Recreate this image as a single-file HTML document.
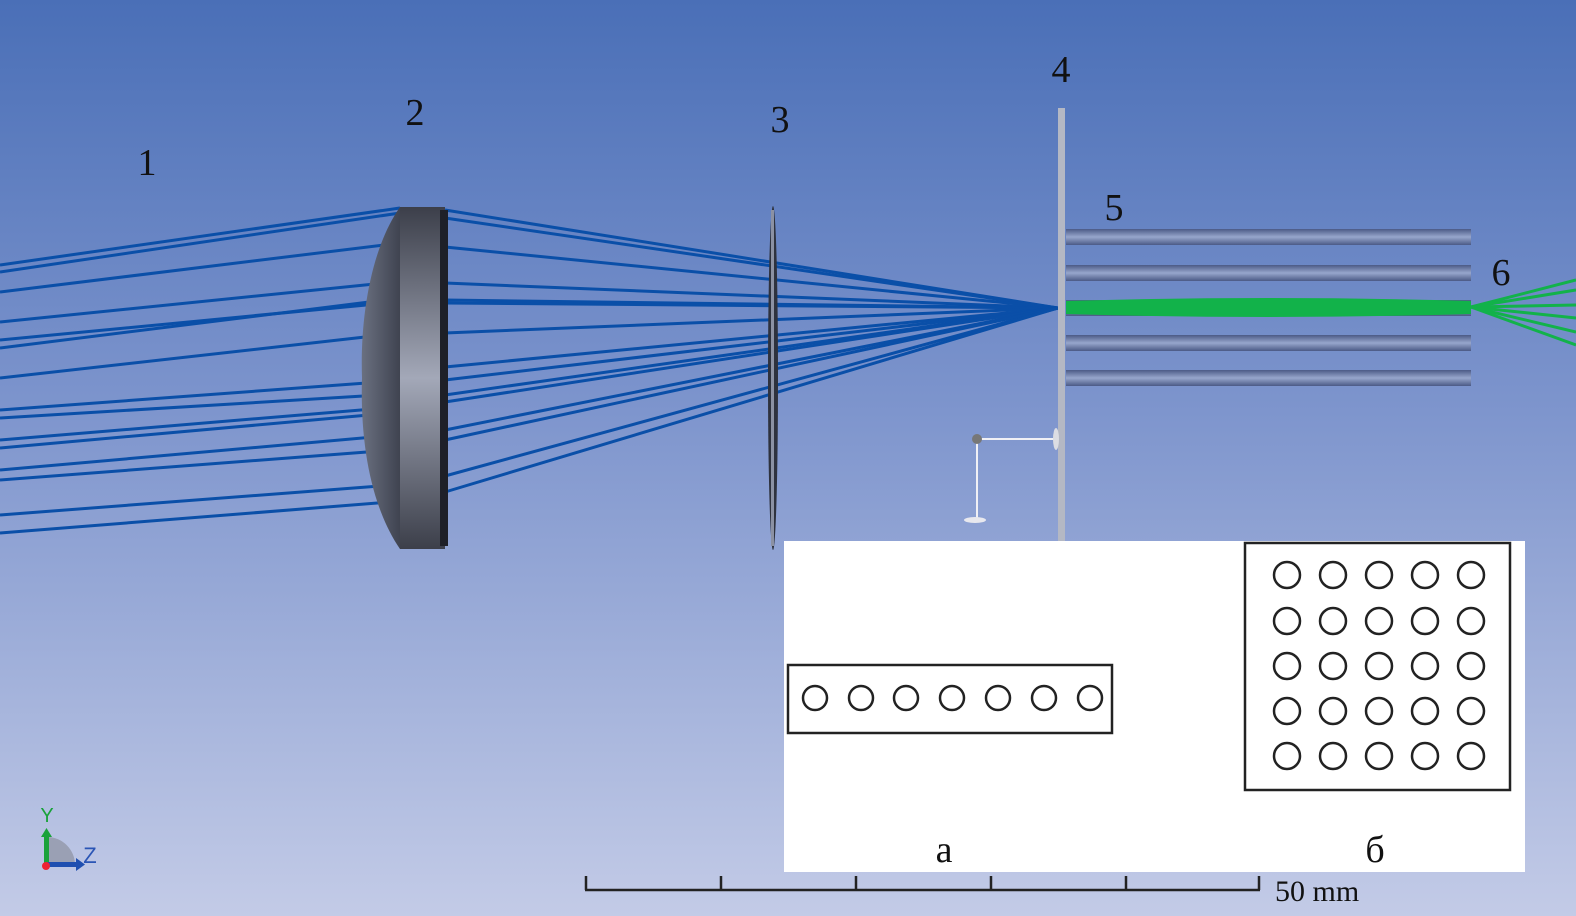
<!DOCTYPE html>
<html><head><meta charset="utf-8"><style>
html,body{margin:0;padding:0;}
body{width:1576px;height:916px;overflow:hidden;background:linear-gradient(#4a6fb7 0%,#7e95cd 45%,#c3cbe7 100%);}
svg{position:absolute;left:0;top:0}
text{font-family:"Liberation Serif",serif;fill:#111}
</style></head><body>
<svg width="1576" height="916" viewBox="0 0 1576 916">
<defs>
<linearGradient id="lg" x1="0" y1="0" x2="0" y2="1">
<stop offset="0" stop-color="#3c3f4a"/><stop offset="0.5" stop-color="#a3a8b8"/><stop offset="1" stop-color="#3c3f4a"/></linearGradient>
<linearGradient id="lc" x1="0" y1="0" x2="1" y2="0">
<stop offset="0" stop-color="#6a7080"/><stop offset="1" stop-color="#3f4350"/></linearGradient>
<linearGradient id="rod" x1="0" y1="0" x2="0" y2="1">
<stop offset="0" stop-color="#4b5a86"/><stop offset="0.5" stop-color="#97a6cc"/><stop offset="1" stop-color="#4b5a86"/></linearGradient>
</defs>
<g stroke="#0a4fa8" stroke-width="3" fill="none">
<line x1="0" y1="265" x2="400" y2="208"/><line x1="0" y1="272" x2="400" y2="213"/>
<line x1="0" y1="292" x2="400" y2="243"/><line x1="0" y1="322" x2="385" y2="283"/>
<line x1="0" y1="340" x2="397" y2="302"/><line x1="0" y1="348" x2="385" y2="300"/>
<line x1="0" y1="378" x2="365" y2="337"/><line x1="0" y1="410" x2="380" y2="382"/>
<line x1="0" y1="418" x2="380" y2="395"/><line x1="0" y1="440" x2="385" y2="408"/>
<line x1="0" y1="448" x2="380" y2="414"/><line x1="0" y1="470" x2="385" y2="436"/>
<line x1="0" y1="480" x2="380" y2="451"/><line x1="0" y1="515" x2="380" y2="486"/>
<line x1="0" y1="533" x2="390" y2="502"/>
<line x1="445" y1="210" x2="1058" y2="308"/><line x1="445" y1="218" x2="1058" y2="308"/>
<line x1="445" y1="247" x2="1058" y2="308"/><line x1="445" y1="283" x2="1058" y2="308"/>
<line x1="445" y1="300" x2="1058" y2="308"/><line x1="445" y1="303" x2="1058" y2="308"/>
<line x1="445" y1="333" x2="1058" y2="308"/><line x1="445" y1="367" x2="1058" y2="308"/>
<line x1="445" y1="380" x2="1058" y2="308"/><line x1="445" y1="395" x2="1058" y2="308"/>
<line x1="445" y1="402" x2="1058" y2="308"/><line x1="445" y1="430" x2="1058" y2="308"/>
<line x1="445" y1="440" x2="1058" y2="308"/><line x1="445" y1="476" x2="1058" y2="308"/>
<line x1="445" y1="492" x2="1058" y2="308"/>
</g>
<path d="M400,207 C370,250 360,320 362,378 C360,440 370,505 400,549 Z" fill="url(#lc)"/>
<rect x="400" y="207" width="45" height="342" fill="url(#lg)"/>
<rect x="440" y="210" width="8" height="336" fill="#1e2028"/>
<ellipse cx="773" cy="378" rx="5" ry="172" fill="#2e323e"/>
<rect x="771" y="210" width="3" height="336" fill="#8b91a3"/>
<g fill="url(#rod)">
<rect x="1066" y="229" width="405" height="16"/><rect x="1066" y="265" width="405" height="16"/>
<rect x="1066" y="300" width="405" height="16"/><rect x="1066" y="335" width="405" height="16"/>
<rect x="1066" y="370" width="405" height="16"/>
</g>
<path d="M1066,301 Q1270,295 1471,301 L1471,314 Q1270,320 1066,314 Z" fill="#12b24a"/>
<g stroke="#12b24a" stroke-width="3">
<line x1="1471" y1="307" x2="1576" y2="280"/><line x1="1471" y1="307" x2="1576" y2="290"/>
<line x1="1471" y1="307" x2="1576" y2="305"/><line x1="1471" y1="307" x2="1576" y2="318"/>
<line x1="1471" y1="307" x2="1576" y2="332"/><line x1="1471" y1="307" x2="1576" y2="345"/>
</g>
<rect x="1058" y="108" width="7" height="435" fill="#b4b8c4"/>
<g stroke="#f0f0f5" stroke-width="2" fill="none"><path d="M1055,439 H977 V520"/></g>
<ellipse cx="1056" cy="439" rx="3" ry="11" fill="#dcdde3"/>
<circle cx="977" cy="439" r="5" fill="#777"/>
<ellipse cx="975" cy="520" rx="11" ry="3" fill="#e8e8ee"/>
<text x="147" y="175" font-size="38" text-anchor="middle">1</text>
<text x="415" y="125" font-size="38" text-anchor="middle">2</text>
<text x="780" y="132" font-size="38" text-anchor="middle">3</text>
<text x="1061" y="82" font-size="38" text-anchor="middle">4</text>
<text x="1114" y="220" font-size="38" text-anchor="middle">5</text>
<text x="1501" y="285" font-size="38" text-anchor="middle">6</text>
<rect x="784" y="541" width="741" height="331" fill="#fff"/>
<g fill="none" stroke="#222" stroke-width="2.5">
<rect x="788" y="665" width="324" height="68"/>
<rect x="1245" y="543" width="265" height="247"/>
<circle cx="815" cy="698" r="12"/><circle cx="861" cy="698" r="12"/><circle cx="906" cy="698" r="12"/>
<circle cx="952" cy="698" r="12"/><circle cx="998" cy="698" r="12"/><circle cx="1044" cy="698" r="12"/><circle cx="1090" cy="698" r="12"/>
</g>
<g fill="none" stroke="#222" stroke-width="2.5" id="grid">
<circle cx="1287" cy="575" r="13"/><circle cx="1333" cy="575" r="13"/><circle cx="1379" cy="575" r="13"/><circle cx="1425" cy="575" r="13"/><circle cx="1471" cy="575" r="13"/>
<circle cx="1287" cy="621" r="13"/><circle cx="1333" cy="621" r="13"/><circle cx="1379" cy="621" r="13"/><circle cx="1425" cy="621" r="13"/><circle cx="1471" cy="621" r="13"/>
<circle cx="1287" cy="666" r="13"/><circle cx="1333" cy="666" r="13"/><circle cx="1379" cy="666" r="13"/><circle cx="1425" cy="666" r="13"/><circle cx="1471" cy="666" r="13"/>
<circle cx="1287" cy="711" r="13"/><circle cx="1333" cy="711" r="13"/><circle cx="1379" cy="711" r="13"/><circle cx="1425" cy="711" r="13"/><circle cx="1471" cy="711" r="13"/>
<circle cx="1287" cy="756" r="13"/><circle cx="1333" cy="756" r="13"/><circle cx="1379" cy="756" r="13"/><circle cx="1425" cy="756" r="13"/><circle cx="1471" cy="756" r="13"/>
</g>
<text x="944" y="862" font-size="38" text-anchor="middle">а</text>
<text x="1375" y="862" font-size="38" text-anchor="middle">б</text>
<g stroke="#222" stroke-width="2.5">
<line x1="585" y1="890" x2="1260" y2="890"/>
<line x1="586" y1="876" x2="586" y2="890"/><line x1="721" y1="876" x2="721" y2="890"/>
<line x1="856" y1="876" x2="856" y2="890"/><line x1="991" y1="876" x2="991" y2="890"/>
<line x1="1126" y1="876" x2="1126" y2="890"/><line x1="1259" y1="876" x2="1259" y2="890"/>
</g>
<text x="1275" y="901" font-size="30">50 mm</text>
<path d="M47,837 A28,28 0 0 1 75,865 L47,865 Z" fill="#9aa0b4"/>
<rect x="44" y="835" width="5" height="30" fill="#19a23a"/>
<polygon points="41,837 46.5,828 52,837" fill="#19a23a"/>
<rect x="47" y="862" width="30" height="5" fill="#1f4fb0"/>
<polygon points="76,858 85,864.5 76,871" fill="#1f4fb0"/>
<circle cx="46" cy="866" r="4" fill="#e23"/>
<text x="47" y="822" font-size="20" fill="#19a23a" text-anchor="middle" style="font-family:'Liberation Sans',sans-serif;fill:#19a23a">Y</text>
<text x="90" y="863" font-size="22" style="font-family:'Liberation Sans',sans-serif;fill:#2a55b5" text-anchor="middle">Z</text>
</svg>
</body></html>
